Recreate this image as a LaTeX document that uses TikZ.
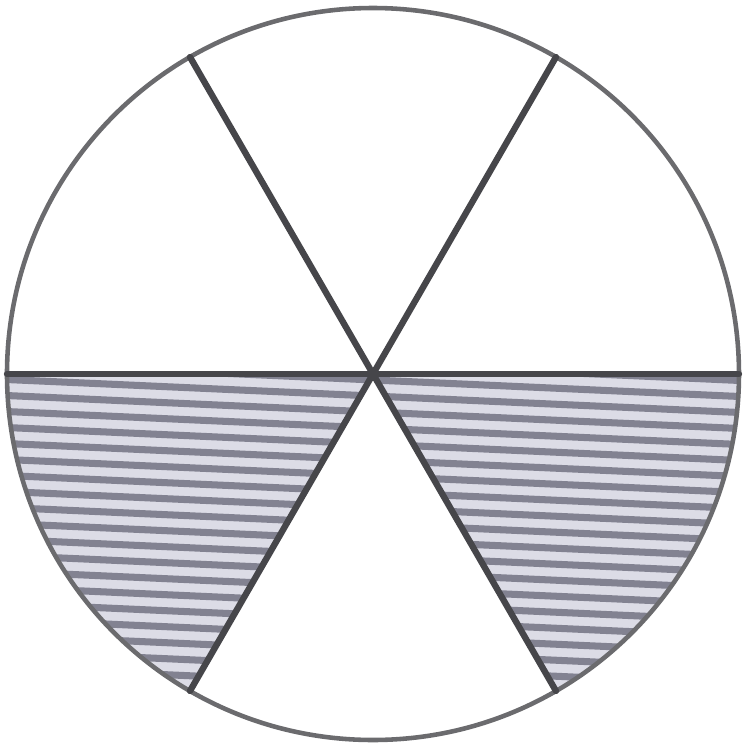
\documentclass[tikz,border=0pt]{standalone}
\usepackage{tikz}
\usetikzlibrary{calc}

\definecolor{hachfundo}{RGB}{220,220,230}
\definecolor{hachlinha}{RGB}{130,130,145}
\definecolor{contorno}{RGB}{70,70,74}

\begin{document}
\begin{tikzpicture}[
			borda/.style={draw=contorno!80, line width=1.3pt},
			raio/.style={draw=contorno, line width=1.8pt, line cap=round},
			fundo/.style={fill=hachfundo},
			listra/.style={draw=hachlinha, line width=2pt}
		]

		\useasboundingbox (0,0) rectangle (7.43,7.49);
		\coordinate (o) at (3.73,3.75);
		\def\R{3.66}

		% setores hachurados
		\foreach \a in {180,300} {
			\begin{scope}
				\clip (o) -- ++(\a:\R) arc[start angle=\a, end angle=\a+60, radius=\R] -- cycle;
				\fill[fundo] (o) circle (\R);
				\foreach \k in {-3,...,26} {
					\draw[listra] ($(o)+(-4,0.12-0.16*\k)$) -- ++(8,-0.36);
				}
			\end{scope}
		}

		\draw[borda] (o) circle (\R);
		\foreach \a in {0,60,120} {
			\draw[raio] ($(o)+(\a:\R)$) -- ($(o)+(\a+180:\R)$);
		}
	\end{tikzpicture}
\end{document}
